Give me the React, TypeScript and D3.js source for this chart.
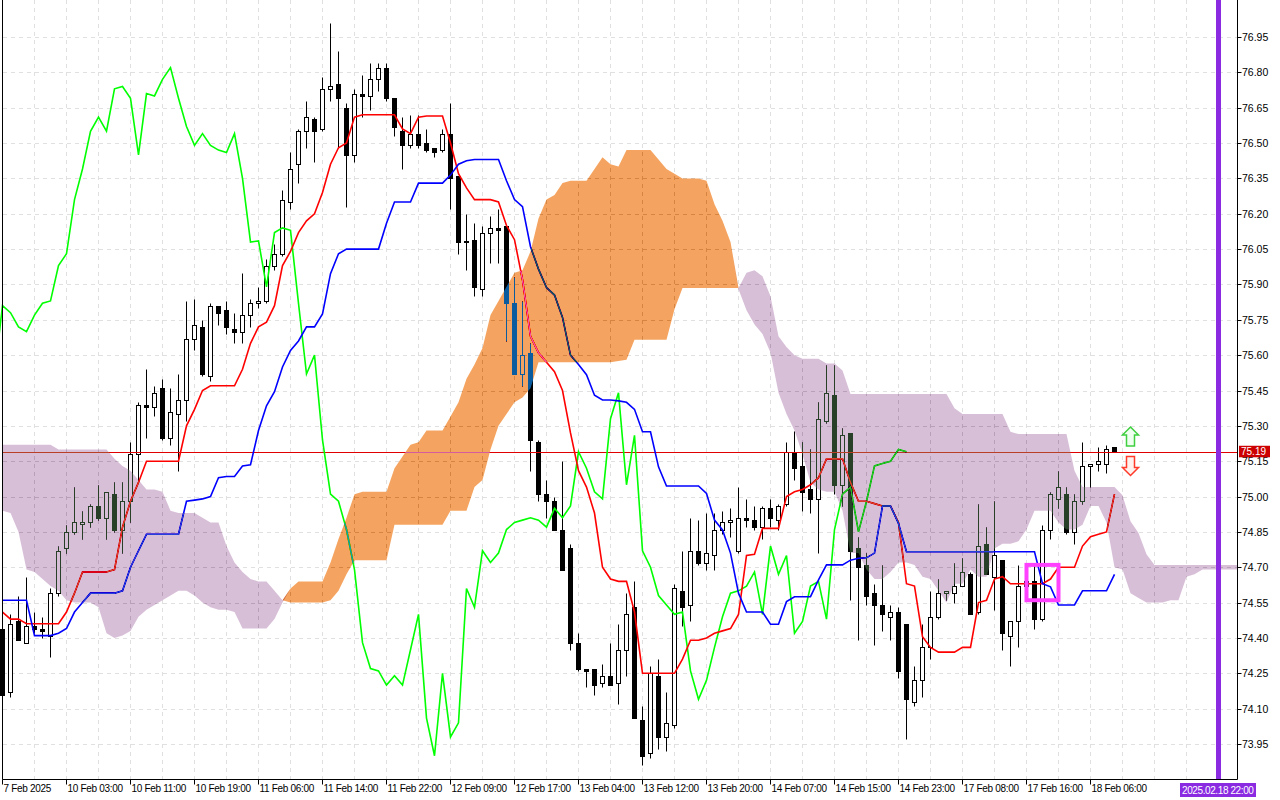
import * as d3 from "d3";

// hourly candles, bar 0 = 7 Feb 2025
const opens = [
  74.44, 74.17, 74.47, 74.38, 74.45, 74.44, 74.41, 74.59, 74.78, 74.85,
  74.885, 74.89, 74.96, 74.91, 75.01, 74.86, 74.98, 75.18, 75.39, 75.38,
  75.46, 75.25, 75.35, 75.41, 75.67, 75.72, 75.51, 75.81, 75.79, 75.71,
  75.70, 75.77, 75.82, 75.83, 75.98, 76.03, 76.25, 76.41, 76.55, 76.60,
  76.56, 76.73, 76.75, 76.65, 76.45, 76.71, 76.70, 76.77, 76.82, 76.69,
  76.55, 76.49, 76.54, 76.50, 76.48, 76.47, 76.54, 76.36, 76.08, 76.09,
  75.88, 76.12, 76.14, 76.15, 75.82, 75.52, 75.61, 75.23, 75.01, 74.98,
  74.86, 74.78, 74.38, 74.27, 74.27, 74.21, 74.24, 74.21, 74.35, 74.53,
  74.05, 73.91, 74.24, 73.98, 74.03, 74.60, 74.54, 74.77, 74.72, 74.75,
  74.86, 74.89, 74.77, 74.91, 74.90, 74.87, 74.95, 74.90, 74.97, 75.19,
  75.13, 75.03, 74.99, 75.32, 75.43, 75.05, 75.27, 74.78, 74.71, 74.59,
  74.54, 74.49, 74.51, 74.46, 74.13, 74.22, 74.36, 74.49, 74.59, 74.59,
  74.62, 74.67, 74.51, 74.80, 74.66, 74.73, 74.41, 74.47, 74.62, 74.64,
  74.48, 74.86, 74.99, 75.01, 74.85, 74.98, 75.13, 75.14, 75.14, 75.21,
];
const highs = [
  74.45, 74.50, 74.58, 74.66, 74.51, 74.49, 74.61, 74.79, 74.88, 75.04,
  74.94, 74.97, 75.05, 75.02, 75.06, 75.06, 75.23, 75.40, 75.54, 75.47,
  75.50, 75.46, 75.52, 75.83, 75.84, 75.75, 75.82, 75.81, 75.83, 75.78,
  75.95, 75.84, 75.89, 76.01, 76.07, 76.30, 76.46, 76.56, 76.68, 76.61,
  76.78, 77.01, 76.89, 76.67, 76.73, 76.79, 76.84, 76.84, 76.84, 76.69,
  76.61, 76.62, 76.62, 76.56, 76.48, 76.56, 76.67, 76.36, 76.20, 76.16,
  76.15, 76.19, 76.22, 76.15, 75.93, 75.83, 75.65, 75.24, 75.07, 75.00,
  75.15, 74.80, 74.42, 74.27, 74.27, 74.29, 74.38, 74.46, 74.59, 74.64,
  74.11, 74.28, 74.31, 74.17, 74.63, 74.77, 74.91, 74.90, 74.93, 74.93,
  74.94, 74.95, 75.04, 74.99, 74.96, 74.96, 74.99, 74.97, 75.23, 75.28,
  75.23, 75.20, 75.40, 75.56, 75.56, 75.29, 75.27, 74.83, 74.76, 74.63,
  74.71, 74.54, 74.53, 74.46, 74.28, 74.46, 74.60, 74.65, 74.60, 74.72,
  74.74, 74.68, 74.97, 74.87, 74.98, 74.73, 74.47, 74.71, 74.68, 74.71,
  74.88, 75.02, 75.11, 75.04, 75.01, 75.23, 75.14, 75.21, 75.22, 75.21,
];
const lows = [
  74.14, 74.15, 74.39, 74.38, 74.42, 74.40, 74.32, 74.58, 74.76, 74.84,
  74.82, 74.87, 74.90, 74.82, 74.85, 74.76, 74.89, 75.07, 75.25, 75.34,
  75.24, 75.22, 75.11, 75.32, 75.62, 75.51, 75.49, 75.73, 75.69, 75.65,
  75.65, 75.72, 75.80, 75.82, 75.96, 76.02, 76.22, 76.33, 76.48, 76.42,
  76.55, 76.68, 76.48, 76.23, 76.42, 76.61, 76.64, 76.72, 76.68, 76.53,
  76.39, 76.48, 76.48, 76.46, 76.44, 76.46, 76.22, 76.03, 75.96, 75.85,
  75.85, 75.99, 75.99, 75.66, 75.52, 75.47, 75.11, 74.98, 74.91, 74.86,
  74.69, 74.35, 74.26, 74.19, 74.16, 74.19, 74.20, 74.12, 74.24, 74.06,
  73.86, 73.89, 73.93, 73.92, 74.02, 74.45, 74.47, 74.71, 74.69, 74.69,
  74.84, 74.83, 74.76, 74.87, 74.86, 74.82, 74.87, 74.86, 74.96, 75.07,
  74.94, 74.93, 74.76, 75.31, 75.01, 74.96, 74.56, 74.39, 74.54, 74.37,
  74.43, 74.39, 74.23, 73.97, 74.11, 74.15, 74.31, 74.48, 74.56, 74.55,
  74.62, 74.50, 74.50, 74.67, 74.52, 74.35, 74.28, 74.36, 74.58, 74.44,
  74.47, 74.82, 74.95, 74.84, 74.80, 74.97, 75.04, 75.11, 75.10, 75.19,
];
const closes = [
  74.16, 74.46, 74.39, 74.45, 74.44, 74.43, 74.59, 74.77, 74.85, 74.89,
  74.89, 74.96, 74.91, 75.02, 74.86, 74.98, 75.18, 75.39, 75.38, 75.44,
  75.25, 75.36, 75.41, 75.67, 75.73, 75.52, 75.81, 75.78, 75.72, 75.70,
  75.77, 75.82, 75.83, 75.98, 76.03, 76.26, 76.39, 76.55, 76.61, 76.55,
  76.73, 76.74, 76.69, 76.45, 76.71, 76.70, 76.77, 76.82, 76.69, 76.57,
  76.49, 76.54, 76.49, 76.47, 76.46, 76.54, 76.35, 76.08, 76.085, 75.89,
  76.12, 76.14, 76.13, 75.82, 75.52, 75.60, 75.24, 75.01, 74.98, 74.86,
  74.69, 74.38, 74.27, 74.26, 74.20, 74.24, 74.20, 74.35, 74.50, 74.06,
  73.90, 74.25, 73.98, 74.04, 74.61, 74.53, 74.77, 74.72, 74.76, 74.86,
  74.89, 74.90, 74.91, 74.90, 74.87, 74.95, 74.91, 74.96, 75.19, 75.12,
  75.02, 74.99, 75.33, 75.44, 75.05, 75.26, 74.77, 74.70, 74.58, 74.54,
  74.50, 74.51, 74.26, 74.14, 74.22, 74.36, 74.49, 74.59, 74.60, 74.62,
  74.68, 74.50, 74.79, 74.67, 74.75, 74.42, 74.47, 74.62, 74.64, 74.48,
  74.86, 75.01, 75.04, 74.85, 74.98, 75.13, 75.14, 75.15, 75.20, 75.19,
];

// Ichimoku lines
const tenkan = [
  74.51, 74.48, 74.48, 74.46, 74.46, 74.46, 74.46, 74.46, 74.51, 74.59,
  74.68, 74.68, 74.68, 74.68, 74.69, 74.87, 74.98, 75.06, 75.15, 75.15,
  75.15, 75.15, 75.15, 75.30, 75.37, 75.45, 75.47, 75.47, 75.47, 75.47,
  75.54, 75.65, 75.72, 75.74, 75.81, 75.98, 76.04, 76.12, 76.17, 76.20,
  76.29, 76.41, 76.48, 76.50, 76.61, 76.62, 76.62, 76.62, 76.62, 76.62,
  76.56, 76.54, 76.61, 76.615, 76.615, 76.615, 76.50, 76.37, 76.31, 76.26,
  76.26, 76.26, 76.25, 76.15, 76.09, 75.92, 75.68, 75.61, 75.57, 75.53,
  75.45, 75.27, 75.11, 75.04, 74.93, 74.70, 74.65, 74.64, 74.64, 74.51,
  74.25, 74.25, 74.25, 74.25, 74.25, 74.31, 74.39, 74.39, 74.40, 74.42,
  74.43, 74.44, 74.50, 74.75, 74.755, 74.865, 74.865, 74.865, 75.00, 75.02,
  75.03, 75.05, 75.08, 75.16, 75.16, 75.16, 75.06, 74.98, 74.98, 74.97,
  74.96, 74.96, 74.89, 74.63, 74.62, 74.405, 74.36, 74.34, 74.34, 74.34,
  74.36, 74.36, 74.55, 74.56, 74.65, 74.66, 74.63, 74.63, 74.63, 74.63,
  74.63, 74.65, 74.70, 74.70, 74.70, 74.79, 74.83, 74.84, 74.85, 75.01,
];
const kijun = [
  74.56, 74.56, 74.56, 74.56, 74.41, 74.41, 74.41, 74.42, 74.44, 74.51,
  74.55, 74.59, 74.59, 74.59, 74.59, 74.60, 74.70, 74.77, 74.84, 74.84,
  74.84, 74.84, 74.84, 74.98, 74.985, 74.99, 75.00, 75.08, 75.085, 75.085,
  75.13, 75.135, 75.28, 75.385, 75.445, 75.55, 75.62, 75.66, 75.72, 75.72,
  75.775, 75.946, 76.03, 76.05, 76.05, 76.05, 76.05, 76.05, 76.16, 76.25,
  76.25, 76.25, 76.33, 76.33, 76.33, 76.33, 76.364, 76.41, 76.425, 76.43,
  76.43, 76.43, 76.43, 76.34, 76.26, 76.23, 76.06, 75.965, 75.887, 75.855,
  75.76, 75.60, 75.56, 75.517, 75.43, 75.41, 75.41, 75.406, 75.40, 75.37,
  75.275, 75.275, 75.126, 75.045, 75.045, 75.045, 75.045, 75.045, 75.013, 74.90,
  74.858, 74.76, 74.59, 74.51, 74.51, 74.51, 74.458, 74.458, 74.554, 74.575,
  74.575, 74.575, 74.646, 74.71, 74.71, 74.71, 74.73, 74.738, 74.74, 74.76,
  74.96, 74.96, 74.886, 74.766, 74.766, 74.766, 74.766, 74.766, 74.766, 74.766,
  74.766, 74.766, 74.766, 74.766, 74.766, 74.766, 74.766, 74.766, 74.766, 74.766,
  74.63, 74.617, 74.54, 74.54, 74.54, 74.60, 74.60, 74.60, 74.60, 74.67,
];
// cloud edges, already shifted 26 bars ahead (bars 0..155)
const senkouA = [
  74.94, 74.93, 74.85, 74.69, 74.68, 74.65, 74.62, 74.60, 74.56, 74.55,
  74.55, 74.55, 74.53, 74.42, 74.40, 74.41, 74.43, 74.49, 74.52, 74.54,
  74.56, 74.58, 74.60, 74.60, 74.58, 74.55, 74.53, 74.52, 74.52, 74.51,
  74.44, 74.44, 74.44, 74.44, 74.48, 74.55, 74.61, 74.64, 74.64, 74.64,
  74.64, 74.72, 74.82, 74.91, 75.01, 75.02, 75.02, 75.02, 75.02, 75.12,
  75.17, 75.22, 75.23, 75.28, 75.28, 75.28, 75.34, 75.40, 75.50, 75.56,
  75.63, 75.77, 75.83, 75.89, 75.95, 75.96, 76.04, 76.18, 76.26, 76.28,
  76.33, 76.34, 76.34, 76.34, 76.39, 76.44, 76.41, 76.40, 76.47, 76.47,
  76.47, 76.47, 76.43, 76.39, 76.37, 76.35, 76.35, 76.35, 76.34, 76.24,
  76.17, 76.08, 75.88, 75.79, 75.73, 75.69, 75.61, 75.44, 75.35, 75.28,
  75.18, 75.06, 75.03, 75.02, 75.02, 74.94, 74.76, 74.76, 74.69, 74.65,
  74.65, 74.68, 74.72, 74.72, 74.71, 74.66, 74.65, 74.60, 74.55, 74.63,
  74.63, 74.69, 74.66, 74.66, 74.78, 74.80, 74.80, 74.81, 74.86, 74.94,
  74.94, 74.94, 74.89, 74.86, 74.86, 74.88, 74.96, 74.96, 74.89, 74.70,
  74.69, 74.59, 74.57, 74.55, 74.55, 74.55, 74.56, 74.56, 74.66, 74.67,
  74.69, 74.69, 74.69, 74.69, 74.69, 74.69,
];
const senkouB = [
  75.22, 75.22, 75.22, 75.22, 75.22, 75.22, 75.22, 75.20, 75.20, 75.20,
  75.20, 75.20, 75.20, 75.20, 75.16, 75.13, 75.11, 75.07, 75.03, 75.03,
  75.02, 74.94, 74.93, 74.93, 74.93, 74.91, 74.89, 74.89, 74.79, 74.72,
  74.68, 74.65, 74.64, 74.64, 74.60, 74.56, 74.55, 74.55, 74.55, 74.55,
  74.55, 74.56, 74.60, 74.67, 74.73, 74.73, 74.73, 74.73, 74.73, 74.88,
  74.88, 74.88, 74.88, 74.88, 74.88, 74.88, 74.94, 74.94, 74.94, 75.04,
  75.07, 75.20, 75.30, 75.35, 75.40, 75.42, 75.46, 75.57, 75.57, 75.57,
  75.57, 75.57, 75.57, 75.57, 75.57, 75.57, 75.57, 75.575, 75.58, 75.665,
  75.665, 75.665, 75.665, 75.665, 75.795, 75.885, 75.885, 75.885, 75.885, 75.885,
  75.885, 75.885, 75.885, 75.95, 75.96, 75.935, 75.85, 75.68, 75.635, 75.60,
  75.585, 75.585, 75.585, 75.565, 75.565, 75.535, 75.435, 75.435, 75.435, 75.435,
  75.435, 75.435, 75.435, 75.435, 75.435, 75.435, 75.435, 75.435, 75.435, 75.375,
  75.35, 75.35, 75.35, 75.35, 75.35, 75.35, 75.275, 75.265, 75.265, 75.265,
  75.265, 75.265, 75.265, 75.265, 75.11, 75.04, 75.04, 75.04, 75.04, 75.04,
  75.005, 74.895, 74.845, 74.755, 74.71, 74.71, 74.71, 74.71, 74.71, 74.71,
  74.71, 74.71, 74.71, 74.71, 74.71, 74.71,
];
const CHIKOU_SHIFT = 26;

const priceTicks = [
  73.95, 74.1, 74.25, 74.4, 74.55, 74.7, 74.85, 75.0, 75.15, 75.3, 75.45,
  75.6, 75.75, 75.9, 76.05, 76.2, 76.35, 76.5, 76.65, 76.8, 76.95,
];
const timeTickBars = [0, 8, 16, 24, 32, 40, 48, 56, 64, 72, 80, 88, 96, 104, 112, 120, 128, 136];
const timeTickLabels = [
  "7 Feb 2025", "10 Feb 03:00", "10 Feb 11:00", "10 Feb 19:00", "11 Feb 06:00",
  "11 Feb 14:00", "11 Feb 22:00", "12 Feb 09:00", "12 Feb 17:00", "13 Feb 04:00",
  "13 Feb 12:00", "13 Feb 20:00", "14 Feb 07:00", "14 Feb 15:00", "14 Feb 23:00",
  "17 Feb 08:00", "17 Feb 16:00", "18 Feb 06:00",
];
const lastPrice = 75.19;
const cursorBar = 152;
const cursorLabel = "2025.02.18 22:00";
const boxBars = [128, 132];
const boxPrices = [74.71, 74.56];
const arrowBar = 141;
const arrowUpPrice = 75.255;
const arrowDownPrice = 75.13;

const W = 1280;
const H = 800;
const AXIS_X = 1237.5;
const AXIS_Y = 779.5;
const FONT = "'Liberation Sans', Arial, sans-serif";

const x = d3.scaleLinear().domain([0, 1]).range([2.5, 10.5]);
const y = d3.scaleLinear().domain([73.95, 76.95]).range([744, 37]);
const crisp = (v: number) => Math.round(v) + 0.5;

const App = () => {
  const line = d3
    .line<number>()
    .x((_, i) => x(i))
    .y((d) => y(d));
  const chikou = d3
    .line<number>()
    .x((_, i) => x(i - CHIKOU_SHIFT))
    .y((d) => y(d));

  const orangeArea = d3
    .area<number>()
    .x((_, i) => x(i))
    .y0((_, i) => y(senkouB[i]))
    .y1((_, i) => y(Math.max(senkouA[i], senkouB[i])));
  const thistleArea = d3
    .area<number>()
    .x((_, i) => x(i))
    .y0((_, i) => y(senkouA[i]))
    .y1((_, i) => y(Math.max(senkouA[i], senkouB[i])));

  const gridX = d3.range(1, 39).map((k) => x(4 * k));

  const arrowPath = (cx: number, cy: number, dir: number) => {
    const p = [
      [0, -9.5], [8, -1.5], [4, -1.5], [4, 9.5], [-4, 9.5], [-4, -1.5], [-8, -1.5],
    ];
    return "M" + p.map(([px, py]) => `${cx + px},${cy + py * dir}`).join("L") + "Z";
  };

  const priceY = y(lastPrice);

  return (
    <svg
      width={W}
      height={H}
      style={{ position: "fixed", left: 0, top: 0, display: "block" }}
    >
      <defs>
        <clipPath id="plot">
          <rect x={0} y={0} width={AXIS_X} height={AXIS_Y} />
        </clipPath>
      </defs>
      <rect width={W} height={H} fill="#fff" />

      <g clipPath="url(#plot)">
        {/* opaque backdrop inside the clipped group so the blend has white to work on */}
        <rect x={0} y={0} width={AXIS_X} height={AXIS_Y} fill="#fff" />

        {priceTicks.map((t) => (
          <line key={t} x1={3} x2={AXIS_X} y1={crisp(y(t))} y2={crisp(y(t))}
            stroke="#e0e0e0" strokeDasharray="4,4" />
        ))}
        {gridX.map((gx) => (
          <line key={gx} x1={gx} x2={gx} y1={0} y2={AXIS_Y}
            stroke="#e0e0e0" strokeDasharray="4,4" />
        ))}

        {opens.map((o, i) => {
          const c = closes[i];
          const cx = x(i);
          const top = crisp(y(Math.max(o, c)));
          const bot = crisp(y(Math.min(o, c)));
          return (
            <g key={i}>
              <line x1={cx} x2={cx} y1={crisp(y(highs[i]))} y2={crisp(y(lows[i]))} stroke="#000" />
              <rect x={cx - 2} y={top} width={4} height={Math.max(bot - top, 0.01)}
                fill={c >= o ? "#fff" : "#000"} stroke="#000" />
            </g>
          );
        })}

        <line x1={3} x2={AXIS_X} y1={crisp(priceY)} y2={crisp(priceY)} stroke="#e00000" />

        <path d={chikou(closes) || undefined} fill="none" stroke="#00ff00" strokeWidth={1.6} />
        <path d={line(tenkan) || undefined} fill="none" stroke="#ff0000" strokeWidth={1.6} />
        <path d={line(kijun) || undefined} fill="none" stroke="#0000ff" strokeWidth={1.6} />

        {/* cloud painted like MT4: inverted colour, difference blend */}
        <path d={orangeArea(senkouA) || undefined} fill="#0b5b9f" style={{ mixBlendMode: "difference" }} />
        <path d={thistleArea(senkouA) || undefined} fill="#274027" style={{ mixBlendMode: "difference" }} />

        <rect
          x={x(boxBars[0])}
          y={y(boxPrices[0])}
          width={x(boxBars[1]) - x(boxBars[0])}
          height={y(boxPrices[1]) - y(boxPrices[0])}
          fill="none"
          stroke="#ff40ff"
          strokeWidth={4}
        />

        <path d={arrowPath(x(arrowBar), y(arrowUpPrice), 1)} fill="#effff0" stroke="#3fcf3f" strokeWidth={1.5} />
        <path d={arrowPath(x(arrowBar), y(arrowDownPrice), -1)} fill="#fff2ee" stroke="#ff3a2a" strokeWidth={1.5} />

        <rect x={x(cursorBar) - 2.5} y={0} width={5} height={AXIS_Y} fill="#8a2be2" />
      </g>

      {/* frame */}
      <line x1={2.5} x2={2.5} y1={0} y2={AXIS_Y} stroke="#000" />
      <line x1={AXIS_X} x2={AXIS_X} y1={0} y2={AXIS_Y} stroke="#000" />
      <line x1={2.5} x2={AXIS_X} y1={AXIS_Y} y2={AXIS_Y} stroke="#000" />

      {priceTicks.map((t) => (
        <g key={t}>
          <line x1={AXIS_X} x2={AXIS_X + 4} y1={crisp(y(t))} y2={crisp(y(t))} stroke="#000" />
          <text x={1242} y={y(t) + 4} fontFamily={FONT} fontSize={10.5} fill="#000">
            {t.toFixed(2)}
          </text>
        </g>
      ))}

      {timeTickBars.map((b, i) => (
        <g key={b}>
          <line x1={x(b)} x2={x(b)} y1={AXIS_Y} y2={AXIS_Y + 5} stroke="#000" />
          <text x={x(b) + 1} y={792} fontFamily={FONT} fontSize={10} letterSpacing={-0.3} fill="#000">
            {timeTickLabels[i]}
          </text>
        </g>
      ))}

      <rect x={1239} y={priceY - 6} width={31} height={11.5} fill="#cc0000" />
      <text x={1241} y={priceY + 3.5} fontFamily={FONT} fontSize={10} fill="#fff">
        {lastPrice.toFixed(2)}
      </text>

      <rect x={1180} y={783} width={76} height={14} fill="#8a2be2" />
      <text x={1182} y={794} fontFamily={FONT} fontSize={10} letterSpacing={-0.4} fill="#fff">
        {cursorLabel}
      </text>
    </svg>
  );
};

export default App;
